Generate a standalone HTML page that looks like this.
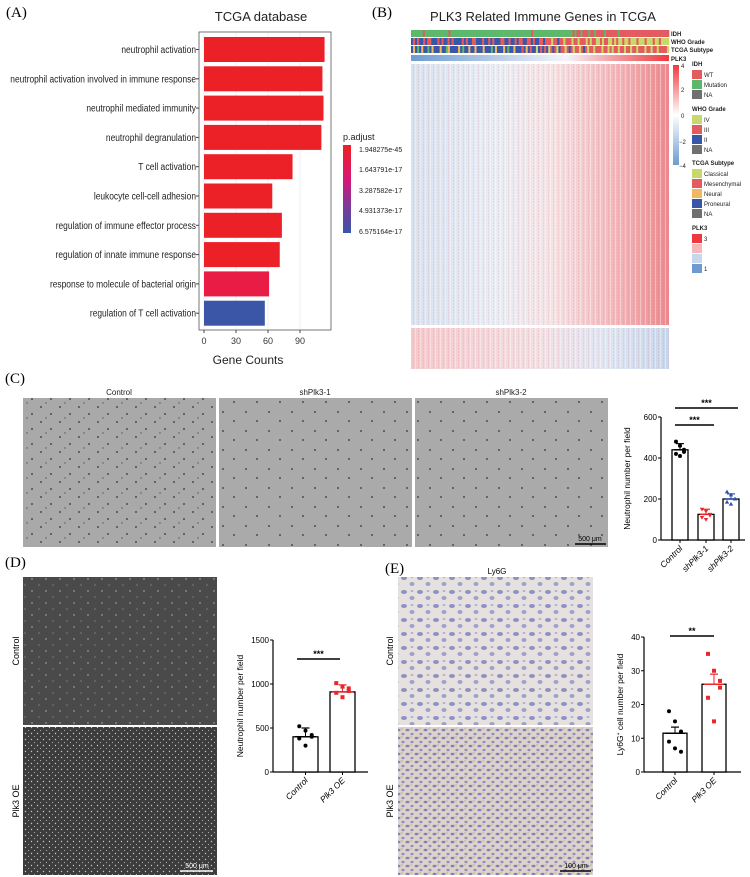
<!DOCTYPE html>
<html><head><meta charset="utf-8"><style>
html,body{margin:0;padding:0;background:#fff;}
svg{display:block;font-family:"Liberation Sans",sans-serif;}
.pl{font-family:"Liberation Serif",serif;font-size:15px;}
</style></head><body>
<svg id="s" width="750" height="877" viewBox="0 0 750 877" xmlns="http://www.w3.org/2000/svg">
<defs>
<pattern id="pC" width="19" height="15" patternUnits="userSpaceOnUse"><rect width="19" height="15" fill="#a9a9a9"/><circle cx="3" cy="2" r="0.9" fill="#333"/><circle cx="13" cy="9" r="0.9" fill="#333"/><circle cx="8" cy="13" r="0.7" fill="#555"/></pattern>
<pattern id="pC2" width="23" height="19" patternUnits="userSpaceOnUse"><rect width="23" height="19" fill="#aaaaaa"/><circle cx="4" cy="3" r="0.9" fill="#333"/><circle cx="16" cy="13" r="0.9" fill="#333"/></pattern>
<pattern id="pD1" width="14" height="12" patternUnits="userSpaceOnUse"><rect width="14" height="12" fill="#4a4a4a"/><circle cx="4" cy="3" r="0.7" fill="#bbb"/><circle cx="11" cy="9" r="0.6" fill="#999"/></pattern>
<pattern id="pD2" width="6" height="6" patternUnits="userSpaceOnUse"><rect width="6" height="6" fill="#3c3c3c"/><circle cx="1.5" cy="1.5" r="0.7" fill="#c8c8c8"/><circle cx="4.5" cy="4.5" r="0.6" fill="#aaa"/></pattern>
<pattern id="pE1" width="16" height="14" patternUnits="userSpaceOnUse"><rect width="16" height="14" fill="#e6e1df"/><ellipse cx="4" cy="4" rx="3" ry="2" fill="#8d91c4"/><ellipse cx="12" cy="10" rx="2.5" ry="2" fill="#9ca0cc"/><ellipse cx="12" cy="3" rx="1.5" ry="1" fill="#b0b2d6"/></pattern>
<pattern id="pE2" width="9" height="8" patternUnits="userSpaceOnUse"><rect width="9" height="8" fill="#ddd3cb"/><ellipse cx="2.5" cy="2" rx="2" ry="1.3" fill="#7f82b8"/><ellipse cx="7" cy="6" rx="1.6" ry="1.2" fill="#8e8fbe"/><circle cx="6" cy="1" r="0.5" fill="#a07040"/></pattern>
<pattern id="stripes" width="5" height="3" patternUnits="userSpaceOnUse"><rect x="0" width="1" height="3" fill="#fff" opacity="0.35"/><rect x="3" width="1" height="2" fill="#e05050" opacity="0.15"/></pattern>
<linearGradient id="hm1" x1="0" x2="1" y1="0" y2="0"><stop offset="0" stop-color="#d9e2f0"/><stop offset="0.35" stop-color="#e9edf5"/><stop offset="0.55" stop-color="#f4e2e4"/><stop offset="0.8" stop-color="#f2b6ba"/><stop offset="1" stop-color="#ec8a8e"/></linearGradient>
<linearGradient id="hm2" x1="0" x2="1" y1="0" y2="0"><stop offset="0" stop-color="#f4c9cc"/><stop offset="0.5" stop-color="#f2e0e4"/><stop offset="0.75" stop-color="#dfe6f2"/><stop offset="1" stop-color="#c8d6ec"/></linearGradient>
<linearGradient id="plk" x1="0" x2="1" y1="0" y2="0"><stop offset="0" stop-color="#6d9bd0"/><stop offset="0.6" stop-color="#f4f4f8"/><stop offset="1" stop-color="#ee3a3e"/></linearGradient>
<linearGradient id="cb" x1="0" x2="0" y1="0" y2="1"><stop offset="0" stop-color="#ee3a3e"/><stop offset="0.5" stop-color="#ffffff"/><stop offset="1" stop-color="#6d9bd0"/></linearGradient>
<linearGradient id="padj" x1="0" x2="0" y1="0" y2="1"><stop offset="0" stop-color="#ee2020"/><stop offset="0.4" stop-color="#d4187a"/><stop offset="0.7" stop-color="#7a3a9a"/><stop offset="1" stop-color="#3a55a8"/></linearGradient>
</defs>

<text class="pl" x="6" y="17">(A)</text>
<text class="pl" x="372" y="17">(B)</text>
<text class="pl" x="5" y="383">(C)</text>
<text class="pl" x="5" y="567">(D)</text>
<text class="pl" x="385" y="573">(E)</text>

<text x="261" y="21" font-size="13" text-anchor="middle" fill="#222">TCGA database</text>
<rect x="199" y="32" width="132" height="298" fill="#fff" stroke="#555" stroke-width="0.8"/>
<g id="gA"></g>
<text x="248" y="364" font-size="12" text-anchor="middle" fill="#222">Gene Counts</text>
<text x="343" y="140" font-size="9" fill="#222">p.adjust</text>
<rect x="343" y="145" width="8" height="88" fill="url(#padj)"/>
<g font-size="7" fill="#222">
<text x="359" y="152">1.948275e-45</text><text x="359" y="172">1.643791e-17</text><text x="359" y="193">3.287582e-17</text><text x="359" y="213">4.931373e-17</text><text x="359" y="234">6.575164e-17</text></g>

<text x="543" y="21" font-size="13" text-anchor="middle" fill="#222">PLK3 Related Immune Genes in TCGA</text>
<g id="gAnno"></g>
<rect x="411" y="55" width="258" height="6" fill="url(#plk)"/>
<rect x="411" y="64" width="258" height="261" fill="url(#hm1)"/>
<rect x="411" y="64" width="258" height="261" fill="url(#stripes)"/>
<rect x="411" y="328" width="258" height="41" fill="url(#hm2)"/>
<rect x="411" y="328" width="258" height="41" fill="url(#stripes)"/>
<g font-size="6" font-weight="bold" fill="#222">
<text x="671" y="36">IDH</text><text x="671" y="44">WHO Grade</text><text x="671" y="52">TCGA Subtype</text><text x="671" y="61">PLK3</text></g>
<rect x="673" y="65" width="6" height="100" fill="url(#cb)"/>
<g font-size="6" fill="#222">
<text x="681" y="68">4</text><text x="681" y="92">2</text><text x="681" y="118">0</text><text x="679" y="144">−2</text><text x="679" y="168">−4</text></g>
<g id="gLeg" font-size="6" fill="#222"></g>

<g font-size="8" fill="#222" text-anchor="middle">
<text x="119" y="395">Control</text><text x="315" y="395">shPlk3-1</text><text x="511" y="395">shPlk3-2</text></g>
<rect x="23" y="398" width="193" height="149" fill="url(#pC)"/>
<rect x="219" y="398" width="193" height="149" fill="url(#pC2)"/>
<rect x="415" y="398" width="193" height="149" fill="url(#pC2)"/>
<line x1="575" y1="544" x2="606" y2="544" stroke="#000" stroke-width="1.5"/>
<text x="590" y="541" font-size="7" text-anchor="middle">500 μm</text>
<g id="gC"></g>

<rect x="23" y="577" width="194" height="148" fill="url(#pD1)"/>
<rect x="23" y="727" width="194" height="148" fill="url(#pD2)"/>
<text transform="translate(19,651) rotate(-90)" font-size="9" text-anchor="middle">Control</text>
<text transform="translate(19,801) rotate(-90)" font-size="9" text-anchor="middle">Plk3 OE</text>
<line x1="180" y1="871" x2="213" y2="871" stroke="#fff" stroke-width="1.5"/>
<text x="197" y="868" font-size="7" fill="#fff" text-anchor="middle">500 μm</text>
<g id="gD"></g>

<text x="497" y="574" font-size="8" text-anchor="middle">Ly6G</text>
<rect x="398" y="577" width="195" height="148" fill="url(#pE1)"/>
<rect x="398" y="727" width="195" height="148" fill="url(#pE2)"/>
<text transform="translate(393,651) rotate(-90)" font-size="9" text-anchor="middle">Control</text>
<text transform="translate(393,801) rotate(-90)" font-size="9" text-anchor="middle">Plk3 OE</text>
<line x1="560" y1="871" x2="591" y2="871" stroke="#000" stroke-width="1.5"/>
<text x="576" y="868" font-size="7" text-anchor="middle">100 μm</text>
<g id="gE"></g>
</svg>
<script>
const goTerms=["neutrophil activation","neutrophil activation involved in immune response","neutrophil mediated immunity","neutrophil degranulation","T cell activation","leukocyte cell-cell adhesion","regulation of immune effector process","regulation of innate immune response","response to molecule of bacterial origin","regulation of T cell activation"];
const geneCounts=[113,111,112,110,83,64,73,71,61,57];
const barColors=["#ec2127","#ec2127","#ec2127","#ec2127","#ec2127","#ec2127","#ec2127","#ec2127","#e81c44","#3b56a6"];
const aTicks=[0,30,60,90];
const cGroups=["Control","shPlk3-1","shPlk3-2"];
const cMeans=[440,125,200];
const cSD=[30,25,25];
const cPoints=[[480,460,440,420,410,430],[150,140,125,110,100,120],[235,220,200,185,175,200]];
const cTicks=[0,200,400,600];
const dGroups=["Control","Plk3 OE"];
const dMeans=[400,910];
const dSD=[100,80];
const dPoints=[[520,470,420,380,300,400],[1010,970,920,900,850,950]];
const dTicks=[0,500,1000,1500];
const eGroups=["Control","Plk3 OE"];
const eMeans=[11.5,26];
const eSE=[1.8,3];
const ePoints=[[18,15,12,9,7,6],[35,30,27,22,15,25]];
const eTicks=[0,10,20,30,40];
const idhSeq="GGGGGGRGGGGGGGGGGGGRGGGGGGGGGGGGGGGGGGGGGGGGGGGGGGGGGGGGGGGGGRGGGGGGGGGGGGGGGGGGGGRGRRGRRRGRRGRRRRGRRRRRRGRRRRRRRRRRRRRRRRRRRRRRRRR";
const whoSeq="BRBRBBRBRRBBBRBRBBRBRBBBBRBRBBRRBBBRBBRBRBBBRRBBRBBRBRRBBRRBRBBRRBRRRYRRBRRYRRRYRRYRRRYRYRRYYRYRRYYRYRYYRYYRYYYRYYYRYYYRYYRYYYY";
const tcgaSeq="BOBGBOBBGBOBBBOBBGOBBBBOBGBBOBBOBBBOBBBGBOBBBOBGBBOBBBRBOBRBBYBRBRBYRBRYBRRYRBRYRRYRBRYRRYRRRYRRYRYRRYRRYRRYRRYRRRYRRYRRYRRRRY";

const NS="http://www.w3.org/2000/svg";
function mk(parent,tag,attrs){const e=document.createElementNS(NS,tag);for(const k in attrs)e.setAttribute(k,attrs[k]);parent.appendChild(e);return e;}

(function(){
 const g=document.getElementById('gA');
 const x0=204,ppu=1.067,top=37,step=29.3,bh=25;
 const X=v=>x0+v*ppu;
 aTicks.forEach(t=>{
  const gl=mk(g,'line',{x1:X(t),x2:X(t),y1:33,y2:329,stroke:'#ececec','stroke-width':0.8});
  
  const tk=mk(g,'line',{x1:X(t),x2:X(t),y1:330,y2:333,stroke:'#444'});
  
  const tl=mk(g,'text',{x:X(t),y:344,'font-size':9,'text-anchor':'middle',fill:'#333'});tl.textContent=t;
  
 });
 goTerms.forEach((term,i)=>{
  const y=top+i*step;
  const r=mk(g,'rect',{x:x0,y:y,width:X(geneCounts[i])-x0,height:bh,fill:barColors[i]});
  
  const t=mk(g,'text',{transform:'translate(196,'+(y+bh/2+3.5)+') scale(0.8,1)','font-size':10.5,'text-anchor':'end',fill:'#222'});t.textContent=term;
  
  const tk=mk(g,'line',{x1:196,x2:199,y1:y+bh/2,y2:y+bh/2,stroke:'#444'});
  
 });
})();

(function(){
 const g=document.getElementById('gAnno');
 const col={G:'#5cb86a',R:'#e45b5f',B:'#3a56a8',Y:'#c9d86a',O:'#f0b860'};
 function row(seq,y,h,name){
  const w=258/seq.length;
  for(let i=0;i<seq.length;i++){
   const r=mk(g,'rect',{x:411+i*w,y:y,width:w+0.3,height:h,fill:col[seq[i]]});
   
  }
 }
 row(idhSeq,30,7,'idh');row(whoSeq,38,7,'who-grade');row(tcgaSeq,46,7,'tcga-subtype');
 const L=document.getElementById('gLeg');
 const groups=[["IDH",66,[["WT","#e45b5f"],["Mutation","#5cb86a"],["NA","#707070"]]],
  ["WHO Grade",111,[["IV","#c9d86a"],["III","#e45b5f"],["II","#3a56a8"],["NA","#707070"]]],
  ["TCGA Subtype",165,[["Classical","#c9d86a"],["Mesenchymal","#e45b5f"],["Neural","#f0b860"],["Proneural","#3a56a8"],["NA","#707070"]]],
  ["PLK3",230,[["3","#ee3a3e"],["","#f5b8ba"],["","#c8d8ec"],["1","#6d9bd0"]]]];
 groups.forEach(([title,ty,items])=>{
  const t=mk(L,'text',{x:692,y:ty,'font-weight':'bold'});t.textContent=title;
  
  items.forEach(([lab,c],j)=>{
   const y=ty+4+j*10;
   const r=mk(L,'rect',{x:692,y:y,width:10,height:9,fill:c});
   
   if(lab){const tx=mk(L,'text',{x:704,y:y+7});tx.textContent=lab;
   }
  });
 });
})();

function dotChart(gid,o){
 const g=document.getElementById(gid);
 const Y=v=>o.y0-(v-o.ticks[0])/(o.ticks[o.ticks.length-1]-o.ticks[0])*(o.y0-o.yTop);
 const ax=mk(g,'line',{x1:o.ax,x2:o.ax,y1:Y(o.ticks[o.ticks.length-1]),y2:o.y0,stroke:'#000','stroke-width':1.2});
 
 const xa=mk(g,'line',{x1:o.ax,x2:o.axEnd,y1:o.y0,y2:o.y0,stroke:'#000','stroke-width':1.2});
 
 o.ticks.forEach(t=>{
  const tk=mk(g,'line',{x1:o.ax-3,x2:o.ax,y1:Y(t),y2:Y(t),stroke:'#000'});
  
  const tl=mk(g,'text',{x:o.ax-4,y:Y(t)+3,'font-size':8,'text-anchor':'end'});tl.textContent=t;
  
 });
 const yt=mk(g,'text',{transform:'translate('+o.titleX+','+((o.y0+Y(o.ticks[o.ticks.length-1]))/2)+') rotate(-90)','font-size':8.5,'text-anchor':'middle'});
 yt.innerHTML=o.title;
 
 o.groups.forEach((gname,i)=>{
  const x=o.bx[i],w=o.bw,cx=x+w/2;
  const b=mk(g,'rect',{x:x,y:Y(o.means[i]),width:w,height:o.y0-Y(o.means[i]),fill:'#fff',stroke:'#000','stroke-width':1.3});
  
  const c=o.colors[i];
  const e1=mk(g,'line',{x1:cx,x2:cx,y1:Y(o.means[i]+o.err[i]),y2:Y(o.means[i]),stroke:c,'stroke-width':1});
  
  const e2=mk(g,'line',{x1:cx-4,x2:cx+4,y1:Y(o.means[i]+o.err[i]),y2:Y(o.means[i]+o.err[i]),stroke:c,'stroke-width':1.2});
  
  const e3=mk(g,'line',{x1:x+2,x2:x+w-2,y1:Y(o.means[i]),y2:Y(o.means[i]),stroke:c,'stroke-width':1.5});
  
  o.points[i].forEach((v,j)=>{
   const px=cx+((j%3)-1)*w*0.25,py=Y(v);
   let m;
   if(o.shapes[i]==='circle')m=mk(g,'circle',{cx:px,cy:py,r:2,fill:c});
   else if(o.shapes[i]==='square')m=mk(g,'rect',{x:px-2,y:py-2,width:4,height:4,fill:c});
   else if(o.shapes[i]==='tri')m=mk(g,'polygon',{points:(px-2.2)+','+(py-1.5)+' '+(px+2.2)+','+(py-1.5)+' '+px+','+(py+2.2),fill:c});
   else m=mk(g,'polygon',{points:(px-2.2)+','+(py+1.5)+' '+(px+2.2)+','+(py+1.5)+' '+px+','+(py-2.2),fill:c});
   
  });
  const tk=mk(g,'line',{x1:cx,x2:cx,y1:o.y0,y2:o.y0+3,stroke:'#000'});
  
  const xl=mk(g,'text',{transform:'translate('+(cx+3)+','+(o.y0+9)+') rotate(-45)','font-size':8.5,'text-anchor':'end','font-style':'italic'});xl.textContent=gname;
  
 });
 o.sig.forEach(s=>{
  const l=mk(g,'line',{x1:s[0],x2:s[1],y1:s[2],y2:s[2],stroke:'#000','stroke-width':1.5});
  
  const t=mk(g,'text',{x:(s[0]+s[1])/2,y:s[2]-2,'font-size':9,'font-weight':'bold','text-anchor':'middle'});t.textContent=s[3];
  
 });
}
dotChart('gC',{p:'c',ax:661,axEnd:745,y0:540,yTop:417,ticks:cTicks,groups:cGroups,means:cMeans,err:cSD,points:cPoints,
 bx:[672,698,723],bw:16,colors:['#000','#e8262c','#2f4fa8'],shapes:['circle','tri','down'],titleX:630,
 title:'Neutrophil number per field',sig:[[675,714,425,'***'],[675,738,408,'***']]});
dotChart('gD',{p:'d',ax:273,axEnd:368,y0:772,yTop:640,ticks:dTicks,groups:dGroups,means:dMeans,err:dSD,points:dPoints,
 bx:[293,330],bw:25,colors:['#000','#e8262c'],shapes:['circle','square'],titleX:243,
 title:'Neutrophil number per field',sig:[[297,340,659,'***']]});
dotChart('gE',{p:'e',ax:644,axEnd:741,y0:772,yTop:637,ticks:eTicks,groups:eGroups,means:eMeans,err:eSE,points:ePoints,
 bx:[663,702],bw:24,colors:['#000','#e8262c'],shapes:['circle','square'],titleX:623,
 title:'Ly6G<tspan font-size="5" dy="-3">+</tspan><tspan dy="3"> cell number per field</tspan>',sig:[[670,714,636,'**']]});
</script>
</body></html>
